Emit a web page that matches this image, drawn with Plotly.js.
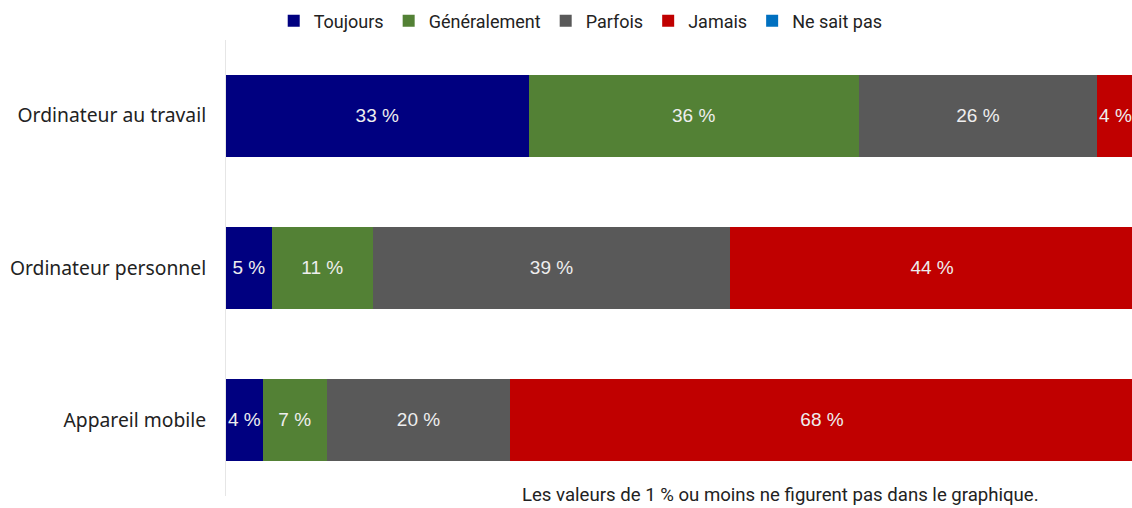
<!DOCTYPE html>
<html><head><meta charset="utf-8">
<script src="https://cdn.plot.ly/plotly-3.0.1.min.js"></script>
<style>html,body{margin:0;padding:0;background:#fff;overflow:hidden}#chart{width:1132px;height:508px}</style>
</head><body><div id="chart"></div>
<script>
const categories = ["Ordinateur au travail", "Ordinateur personnel", "Appareil mobile"];
const seriesNames = ["Toujours", "Généralement", "Parfois", "Jamais", "Ne sait pas"];
const toujours = [33, 5, 4];
const generalement = [36, 11, 7];
const parfois = [26, 39, 20];
const jamais = [4, 44, 68];
const neSaitPas = [1, 1, 1];
const colors = ["#000080", "#538135", "#595959", "#C00000", "#0070C0"];

const allValues = [toujours, generalement, parfois, jamais, neSaitPas];
const traces = allValues.map((vals, i) => ({
  type: "bar",
  orientation: "h",
  name: seriesNames[i],
  y: categories,
  x: vals,
  marker: {color: colors[i], line: {width: 0}},
  text: vals.map(v => v > 1 ? v + " %" : ""),
  textposition: "inside",
  insidetextanchor: "middle",
  constraintext: "none",
  textangle: 0,
  textfont: {family: "Liberation Sans, Arial, sans-serif", size: 19, color: "#eeeeee"},
  hoverinfo: "x+name"
}));

const layout = {
  width: 1132, height: 508,
  margin: {l: 226, r: 0, t: 39, b: 12},
  barmode: "stack",
  bargap: 0.46,
  paper_bgcolor: "#fff", plot_bgcolor: "#fff",
  showlegend: true,
  legend: {
    orientation: "h", xref: "container", yref: "container",
    x: 0.513, xanchor: "center", y: 0.995, yanchor: "top",
    font: {family: "Roboto, Arial, sans-serif", size: 18, color: "#222"},
    itemwidth: 30, tracegroupgap: 0, traceorder: "normal"
  },
  xaxis: {range: [0, 98.8], visible: false, fixedrange: true},
  yaxis: {
    autorange: "reversed", showgrid: false, zeroline: false,
    showline: true, linecolor: "#e6e6e6", linewidth: 1,
    ticks: "outside", ticklen: 15, tickcolor: "rgba(0,0,0,0)",
    tickfont: {family: "Noto Sans, Arial, sans-serif", size: 19.3, color: "#222"}
  },
  annotations: [{
    text: "Les valeurs de 1 % ou moins ne figurent pas dans le graphique.",
    xref: "paper", yref: "paper",
    x: (780 - 226) / 906, y: 0, xanchor: "center", yanchor: "middle", yshift: 1,
    showarrow: false,
    font: {family: "Roboto, Arial, sans-serif", size: 18.6, color: "#222"}
  }]
};
Plotly.newPlot("chart", traces, layout, {displayModeBar: false, staticPlot: true});
</script></body></html>
